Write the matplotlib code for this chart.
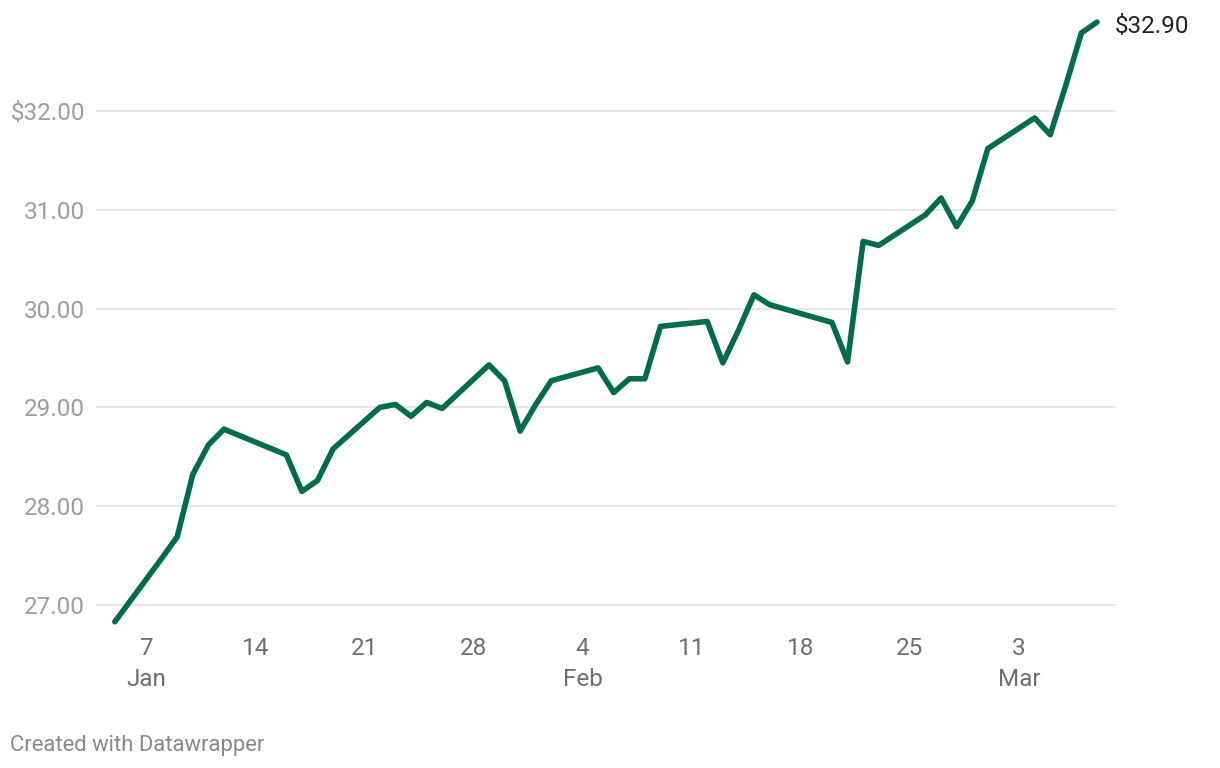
import pandas as pd
import matplotlib
matplotlib.use('Agg')
import matplotlib.pyplot as plt
import matplotlib.dates as mdates
from matplotlib.transforms import blended_transform_factory

plt.rcParams['font.family'] = ['Roboto', 'DejaVu Sans']

# closing prices, trading days Jan 5 - Mar 8 2024
dates = ['2024-01-05', '2024-01-08', '2024-01-09', '2024-01-10', '2024-01-11', '2024-01-12',
         '2024-01-16', '2024-01-17', '2024-01-18', '2024-01-19',
         '2024-01-22', '2024-01-23', '2024-01-24', '2024-01-25', '2024-01-26',
         '2024-01-29', '2024-01-30', '2024-01-31', '2024-02-01', '2024-02-02',
         '2024-02-05', '2024-02-06', '2024-02-07', '2024-02-08', '2024-02-09',
         '2024-02-12', '2024-02-13', '2024-02-14', '2024-02-15', '2024-02-16',
         '2024-02-20', '2024-02-21', '2024-02-22', '2024-02-23',
         '2024-02-26', '2024-02-27', '2024-02-28', '2024-02-29', '2024-03-01',
         '2024-03-04', '2024-03-05', '2024-03-06', '2024-03-07', '2024-03-08']
prices = [26.83, 27.47, 27.69, 28.32, 28.62, 28.78,
          28.52, 28.15, 28.26, 28.58,
          29.00, 29.03, 28.91, 29.05, 28.99,
          29.43, 29.27, 28.76, 29.03, 29.27,
          29.40, 29.15, 29.29, 29.29, 29.82,
          29.87, 29.45, 29.78, 30.14, 30.04,
          29.86, 29.46, 30.68, 30.64,
          30.95, 31.12, 30.83, 31.09, 31.62,
          31.93, 31.76, 32.26, 32.79, 32.90]

y_ticks = [27, 28, 29, 30, 31, 32]
y_labels = ['27.00', '28.00', '29.00', '30.00', '31.00', '$32.00']
x_ticks = ['2024-01-07', '2024-01-14', '2024-01-21', '2024-01-28', '2024-02-04',
           '2024-02-11', '2024-02-18', '2024-02-25', '2024-03-03']
x_labels = ['7', '14', '21', '28', '4', '11', '18', '25', '3']
months = {'2024-01-07': 'Jan', '2024-02-04': 'Feb', '2024-03-03': 'Mar'}

x = pd.to_datetime(dates)
W, H = 1220, 768
fig = plt.figure(figsize=(W / 100, H / 100), dpi=100)
ax = fig.add_axes([96 / W, (H - 630) / H, (1116 - 96) / W, (630 - 15) / H])

ax.plot(x, prices, color='#006b4f', lw=4.0, solid_capstyle='round',
        solid_joinstyle='round', zorder=3, clip_on=False)

x0 = mdates.date2num(pd.Timestamp('2024-01-07'))
ax.set_xlim(x0 - 3.207, x0 + 62.22)
ax.set_ylim(26.747, 32.972)

ax.set_yticks(y_ticks)
ax.set_yticklabels(y_labels)
ax.set_xticks(pd.to_datetime(x_ticks))
ax.set_xticklabels(x_labels)
ax.grid(axis='y', color='#e2e2e2', lw=1.2)
ax.grid(axis='x', visible=False)
for s in ax.spines.values():
    s.set_visible(False)
ax.tick_params(axis='y', length=0, pad=8, labelsize=17.5, labelcolor='#9d9d9d')
ax.tick_params(axis='x', length=0, pad=5, labelsize=17.5, labelcolor='#6e6e6e')

tr = blended_transform_factory(ax.transData, fig.transFigure)
for d, m in months.items():
    ax.text(pd.Timestamp(d), (H - 679) / H, m, transform=tr, ha='center', va='center',
            fontsize=17.5, color='#6e6e6e')

ax.annotate(f'${prices[-1]:.2f}', xy=(x[-1], prices[-1]), xytext=(13, -3),
            textcoords='offset points', ha='left', va='center',
            fontsize=17.5, color='#222222', annotation_clip=False)

fig.text(10 / W, (H - 745) / H, 'Created with Datawrapper', ha='left', va='center',
         fontsize=15.8, color='#888888')

fig.savefig('out.png', dpi=100)
